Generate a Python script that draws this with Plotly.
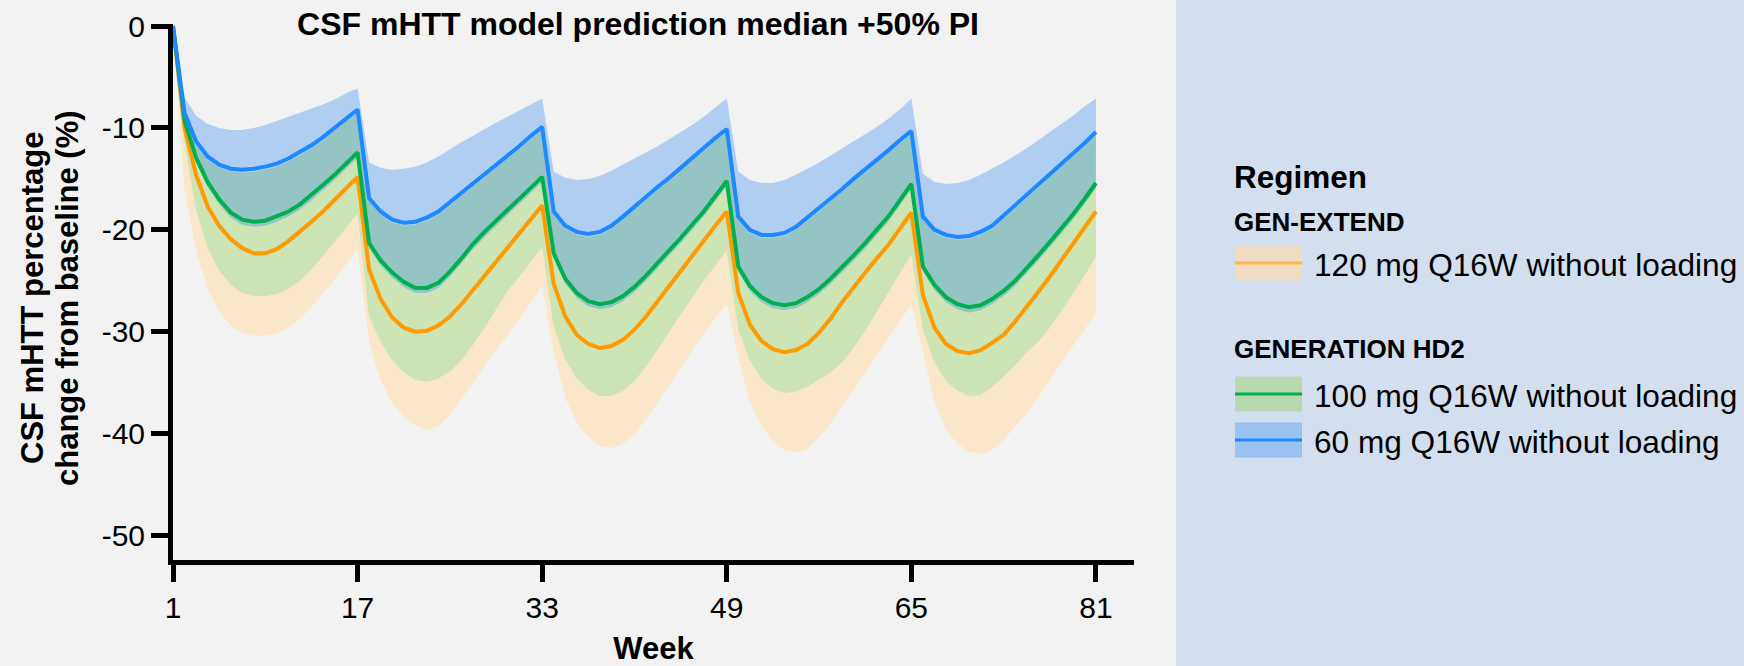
import plotly.graph_objects as go

# ---------------- data ----------------
weeks = list(range(1, 82))

blue_median = [0, -8.5, -11.3, -12.8, -13.6, -14.0, -14.1, -14.0, -13.8, -13.5, -13.0, -12.4, -11.7, -10.9, -10.0, -9.1, -8.2,
               -16.9, -18.2, -19.0, -19.3, -19.2, -18.8, -18.2, -17.3, -16.4, -15.5, -14.6, -13.6, -12.7, -11.8, -10.8, -9.9,
               -18.2, -19.6, -20.2, -20.4, -20.2, -19.6, -18.7, -17.7, -16.8, -15.8, -14.9, -13.9, -12.9, -12.0, -11.0, -10.1,
               -18.7, -20.0, -20.5, -20.5, -20.3, -19.7, -18.8, -17.9, -16.9, -16.0, -15.0, -14.1, -13.1, -12.2, -11.2, -10.3,
               -18.7, -20.0, -20.5, -20.7, -20.6, -20.2, -19.6, -18.6, -17.6, -16.6, -15.6, -14.5, -13.5, -12.5, -11.5, -10.4]
blue_upper = [0, -7.0, -8.8, -9.6, -10.0, -10.2, -10.2, -10.0, -9.7, -9.3, -8.9, -8.5, -8.1, -7.7, -7.2, -6.6, -6.1,
              -13.4, -13.9, -14.1, -14.0, -13.8, -13.4, -12.8, -12.1, -11.4, -10.8, -10.1, -9.5, -8.9, -8.3, -7.7, -7.1,
              -14.3, -14.9, -15.1, -15.0, -14.7, -14.2, -13.6, -13.0, -12.4, -11.8, -11.1, -10.4, -9.7, -8.9, -8.0, -7.1,
              -14.3, -15.1, -15.4, -15.4, -15.1, -14.6, -14.0, -13.4, -12.7, -12.0, -11.3, -10.6, -9.9, -9.1, -8.2, -7.1,
              -14.5, -15.3, -15.5, -15.4, -15.1, -14.6, -14.0, -13.4, -12.7, -12.0, -11.2, -10.4, -9.6, -8.8, -7.9, -7.1]
blue_lower = [0, -9.7, -13.4, -15.8, -17.5, -18.8, -19.5, -19.7, -19.6, -19.2, -18.7, -18.0, -17.1, -16.1, -15.1, -14.0, -12.9,
              -21.8, -23.5, -24.7, -25.6, -26.2, -26.2, -25.7, -24.6, -23.3, -21.9, -20.7, -19.6, -18.5, -17.4, -16.3, -15.3,
              -22.8, -25.3, -26.7, -27.5, -27.8, -27.6, -27.0, -26.1, -25.0, -23.8, -22.6, -21.3, -20.0, -18.7, -17.2, -15.7,
              -24.1, -26.0, -27.1, -27.7, -27.9, -27.7, -27.1, -26.3, -25.3, -24.2, -23.0, -21.8, -20.5, -19.2, -17.6, -16.0,
              -24.1, -25.9, -27.1, -27.8, -28.1, -27.9, -27.3, -26.5, -25.5, -24.3, -23.0, -21.7, -20.4, -19.0, -17.5, -15.9]

green_median = [0, -9.3, -12.9, -15.3, -17.0, -18.3, -19.0, -19.2, -19.1, -18.7, -18.2, -17.5, -16.6, -15.6, -14.6, -13.5, -12.4,
                -21.3, -23.0, -24.2, -25.1, -25.7, -25.7, -25.2, -24.1, -22.8, -21.4, -20.2, -19.1, -18.0, -16.9, -15.8, -14.8,
                -22.3, -24.8, -26.2, -27.0, -27.3, -27.1, -26.5, -25.6, -24.5, -23.3, -22.1, -20.8, -19.5, -18.2, -16.7, -15.2,
                -23.6, -25.5, -26.6, -27.2, -27.4, -27.2, -26.6, -25.8, -24.8, -23.7, -22.5, -21.3, -20.0, -18.7, -17.1, -15.5,
                -23.6, -25.4, -26.6, -27.3, -27.6, -27.4, -26.8, -26.0, -25.0, -23.8, -22.5, -21.2, -19.9, -18.5, -17.0, -15.4]
green_upper = [0, -8.8, -11.6, -13.1, -13.9, -14.3, -14.4, -14.3, -14.1, -13.8, -13.3, -12.7, -12.0, -11.2, -10.3, -9.4, -8.5,
               -17.2, -18.5, -19.3, -19.6, -19.5, -19.1, -18.5, -17.6, -16.7, -15.8, -14.9, -13.9, -13.0, -12.1, -11.1, -10.2,
               -18.5, -19.9, -20.5, -20.7, -20.5, -19.9, -19.0, -18.0, -17.1, -16.1, -15.2, -14.2, -13.2, -12.3, -11.3, -10.4,
               -19.0, -20.3, -20.8, -20.8, -20.6, -20.0, -19.1, -18.2, -17.2, -16.3, -15.3, -14.4, -13.4, -12.5, -11.5, -10.6,
               -19.0, -20.3, -20.8, -21.0, -20.9, -20.5, -19.9, -18.9, -17.9, -16.9, -15.9, -14.8, -13.8, -12.8, -11.8, -10.7]
green_lower = [0, -11.5, -18.0, -21.8, -24.0, -25.4, -26.2, -26.5, -26.5, -26.3, -25.8, -25.0, -23.9, -22.6, -21.2, -19.8, -18.4,
               -28.5, -31.0, -32.8, -34.0, -34.7, -34.9, -34.6, -33.9, -32.8, -31.3, -29.6, -27.8, -26.0, -24.6, -23.1, -21.7,
               -29.5, -32.7, -34.6, -35.7, -36.3, -36.3, -35.8, -34.8, -33.4, -31.8, -30.0, -28.3, -26.6, -25.0, -23.5, -22.0,
               -29.8, -32.8, -34.6, -35.6, -36.0, -35.9, -35.4, -34.7, -34.0, -33.0, -31.6, -29.9, -28.0, -26.1, -24.2, -22.4,
               -29.8, -33.0, -34.8, -35.8, -36.3, -36.2, -35.4, -34.4, -33.3, -32.0, -31.0, -29.6, -28.0, -26.3, -24.5, -22.6]

orange_median = [0, -10.0, -14.6, -17.7, -19.6, -20.9, -21.8, -22.3, -22.3, -21.9, -21.1, -20.2, -19.2, -18.2, -17.1, -16.0, -14.8,
                 -23.9, -26.8, -28.6, -29.6, -30.0, -29.9, -29.4, -28.5, -27.3, -25.9, -24.5, -23.1, -21.7, -20.3, -18.9, -17.6,
                 -25.3, -28.5, -30.3, -31.2, -31.6, -31.4, -30.8, -29.8, -28.5, -27.0, -25.5, -24.0, -22.6, -21.1, -19.6, -18.2,
                 -26.2, -29.3, -30.9, -31.7, -32.0, -31.8, -31.2, -30.1, -28.7, -27.1, -25.6, -24.2, -22.8, -21.5, -19.9, -18.3,
                 -26.4, -29.6, -31.2, -31.9, -32.1, -31.8, -31.1, -30.3, -29.0, -27.6, -26.1, -24.6, -23.0, -21.4, -19.8, -18.2]
orange_upper = [0, -9.0, -12.6, -15.2, -16.9, -18.0, -18.7, -19.1, -19.0, -18.6, -17.8, -16.9, -16.0, -15.0, -14.0, -12.9, -11.9,
                -21.0, -23.8, -25.5, -26.4, -26.8, -26.7, -26.2, -25.4, -24.3, -23.0, -21.7, -20.4, -19.1, -17.8, -16.6, -15.3,
                -22.5, -25.4, -27.1, -27.9, -28.3, -28.1, -27.5, -26.6, -25.4, -24.1, -22.7, -21.3, -20.0, -18.6, -17.3, -15.9,
                -23.4, -26.2, -27.7, -28.4, -28.7, -28.5, -27.9, -26.9, -25.6, -24.2, -22.8, -21.5, -20.2, -19.0, -17.6, -16.1,
                -23.6, -26.5, -28.0, -28.6, -28.8, -28.5, -27.9, -27.1, -25.9, -24.6, -23.3, -21.9, -20.5, -19.1, -17.6, -16.1]
orange_lower = [0, -16.0, -22.0, -25.8, -28.0, -29.4, -30.1, -30.4, -30.4, -30.2, -29.6, -28.7, -27.6, -26.3, -24.9, -23.4, -21.8,
                -31.0, -34.8, -37.0, -38.3, -39.2, -39.6, -39.3, -38.2, -36.6, -35.0, -33.3, -31.8, -30.3, -28.8, -27.2, -25.5,
                -32.0, -36.5, -38.9, -40.3, -41.2, -41.4, -41.0, -40.1, -38.6, -37.0, -35.3, -33.6, -31.9, -30.2, -28.7, -27.2,
                -32.5, -36.9, -39.2, -40.7, -41.6, -41.9, -41.5, -40.4, -39.0, -37.4, -35.7, -34.0, -32.3, -30.6, -28.9, -27.3,
                -32.0, -36.8, -39.6, -41.0, -41.8, -42.0, -41.6, -40.6, -39.3, -38.0, -36.4, -34.7, -33.0, -31.4, -29.8, -28.2]

x_ticks = [1, 17, 33, 49, 65, 81]
y_ticks = [0, -10, -20, -30, -40, -50]
y_tick_labels = ["0", "-10", "-20", "-30", "-40", "-50"]

title_text = "CSF mHTT model prediction median +50% PI"
x_title = "Week"
y_title = ["CSF mHTT percentage", "change from baseline (%)"]
legend_title = "Regimen"
group_titles = ["GEN-EXTEND", "GENERATION HD2"]
series_names = ["120 mg Q16W without loading", "100 mg Q16W without loading", "60 mg Q16W without loading"]

# ---------------- styling ----------------
FONT = "Liberation Sans, Arial, sans-serif"
W, H = 1744, 666
L, R, T, B = 173, 1134, 24, 560          # plot area in pixels
C_ORANGE, C_GREEN, C_BLUE = "#FF9A00", "#00B050", "#1E88FF"
F_ORANGE, F_GREEN, F_BLUE = "#FAE6C9", "#CDE4B4", "rgba(0,112,242,0.27)"
BG, PANEL = "#F2F2F2", "#D3DFEE"


def px(xp):
    return (xp - L) / (R - L)


def py(yp):
    return (B - yp) / (B - T)


fig = go.Figure()


def add_band(upper, lower, fillcolor):
    fig.add_trace(go.Scatter(x=weeks, y=upper, mode="lines", line=dict(width=0, color=fillcolor),
                             showlegend=False, hoverinfo="skip"))
    fig.add_trace(go.Scatter(x=weeks, y=lower, mode="lines", line=dict(width=0, color=fillcolor),
                             fill="tonexty", fillcolor=fillcolor, showlegend=False, hoverinfo="skip"))


add_band(orange_upper, orange_lower, F_ORANGE)
add_band(green_upper, green_lower, F_GREEN)
add_band(blue_upper, blue_lower, F_BLUE)

for yv, col, nm in [(orange_median, C_ORANGE, series_names[0]),
                    (green_median, C_GREEN, series_names[1]),
                    (blue_median, C_BLUE, series_names[2])]:
    fig.add_trace(go.Scatter(x=weeks, y=yv, mode="lines", name=nm,
                             line=dict(color=col, width=4), showlegend=False))

# right-hand legend panel
shapes = [dict(type="rect", xref="paper", yref="paper", x0=px(1176), x1=px(W + 5), y0=py(H + 5), y1=py(-5),
               fillcolor=PANEL, line=dict(width=0), layer="below")]
annotations = []

icon_fill = ["#EFDCC3", "#B9D8B0", "#99C2F0"]
icon_line = ["#FFB84D", C_GREEN, C_BLUE]
icon_cy = [263, 394, 440]
text_cy = [265, 396, 442]
for i in range(3):
    shapes.append(dict(type="rect", xref="paper", yref="paper", x0=px(1235), x1=px(1302),
                       y0=py(icon_cy[i] + 17.5), y1=py(icon_cy[i] - 17.5),
                       fillcolor=icon_fill[i], line=dict(width=0)))
    shapes.append(dict(type="line", xref="paper", yref="paper", x0=px(1235), x1=px(1302),
                       y0=py(icon_cy[i]), y1=py(icon_cy[i]), line=dict(color=icon_line[i], width=3)))
    annotations.append(dict(text=series_names[i], xref="paper", yref="paper", x=px(1312), y=py(text_cy[i]),
                            xanchor="left", yanchor="middle", showarrow=False,
                            font=dict(family=FONT, size=31.6, color="black")))

annotations.append(dict(text="<b>%s</b>" % legend_title, xref="paper", yref="paper", x=px(1232), y=py(177),
                        xanchor="left", yanchor="middle", showarrow=False,
                        font=dict(family=FONT, size=31.5, color="black")))
for gt, gy in zip(group_titles, [222, 349]):
    annotations.append(dict(text="<b>%s</b>" % gt, xref="paper", yref="paper", x=px(1232), y=py(gy),
                            xanchor="left", yanchor="middle", showarrow=False,
                            font=dict(family=FONT, size=26, color="black")))

# y-axis title (two lines)
for txt, cx in zip(y_title, [32, 67]):
    annotations.append(dict(text="<b>%s</b>" % txt, xref="paper", yref="paper", x=px(cx), y=py(298),
                            xanchor="center", yanchor="middle", textangle=-90, showarrow=False,
                            font=dict(family=FONT, size=31, color="black")))

fig.update_layout(
    width=W, height=H,
    margin=dict(l=L, r=W - R, t=T, b=H - B, pad=0),
    paper_bgcolor=BG, plot_bgcolor=BG,
    font=dict(family=FONT, color="black"),
    title=dict(text="<b>%s</b>" % title_text, x=638 / W, xref="container", xanchor="center",
               y=1 - 24 / H, yref="container", yanchor="middle",
               font=dict(family=FONT, size=32, color="black")),
    showlegend=False,
    shapes=shapes,
    annotations=annotations,
    xaxis=dict(range=[1, 84.3], tickvals=x_ticks, ticktext=[str(v) for v in x_ticks],
               showline=True, linewidth=5, linecolor="black", mirror=False,
               ticks="outside", ticklen=17, tickwidth=5, tickcolor="black",
               showgrid=False, zeroline=False, tickfont=dict(family=FONT, size=30, color="black"),
               title=dict(text="<b>%s</b>" % x_title, font=dict(family=FONT, size=31, color="black"), standoff=25),
               automargin=False),
    yaxis=dict(range=[-52.4, 0.2], tickvals=y_ticks, ticktext=y_tick_labels,
               showline=True, linewidth=5, linecolor="black",
               ticks="outside", ticklen=17, tickwidth=5, tickcolor="black",
               showgrid=False, zeroline=False, tickfont=dict(family=FONT, size=30, color="black"),
               automargin=False),
)

fig.write_html("out.html",
               config={"displayModeBar": False},
               post_script="document.body.style.margin='0px';document.body.style.overflow='hidden';")
